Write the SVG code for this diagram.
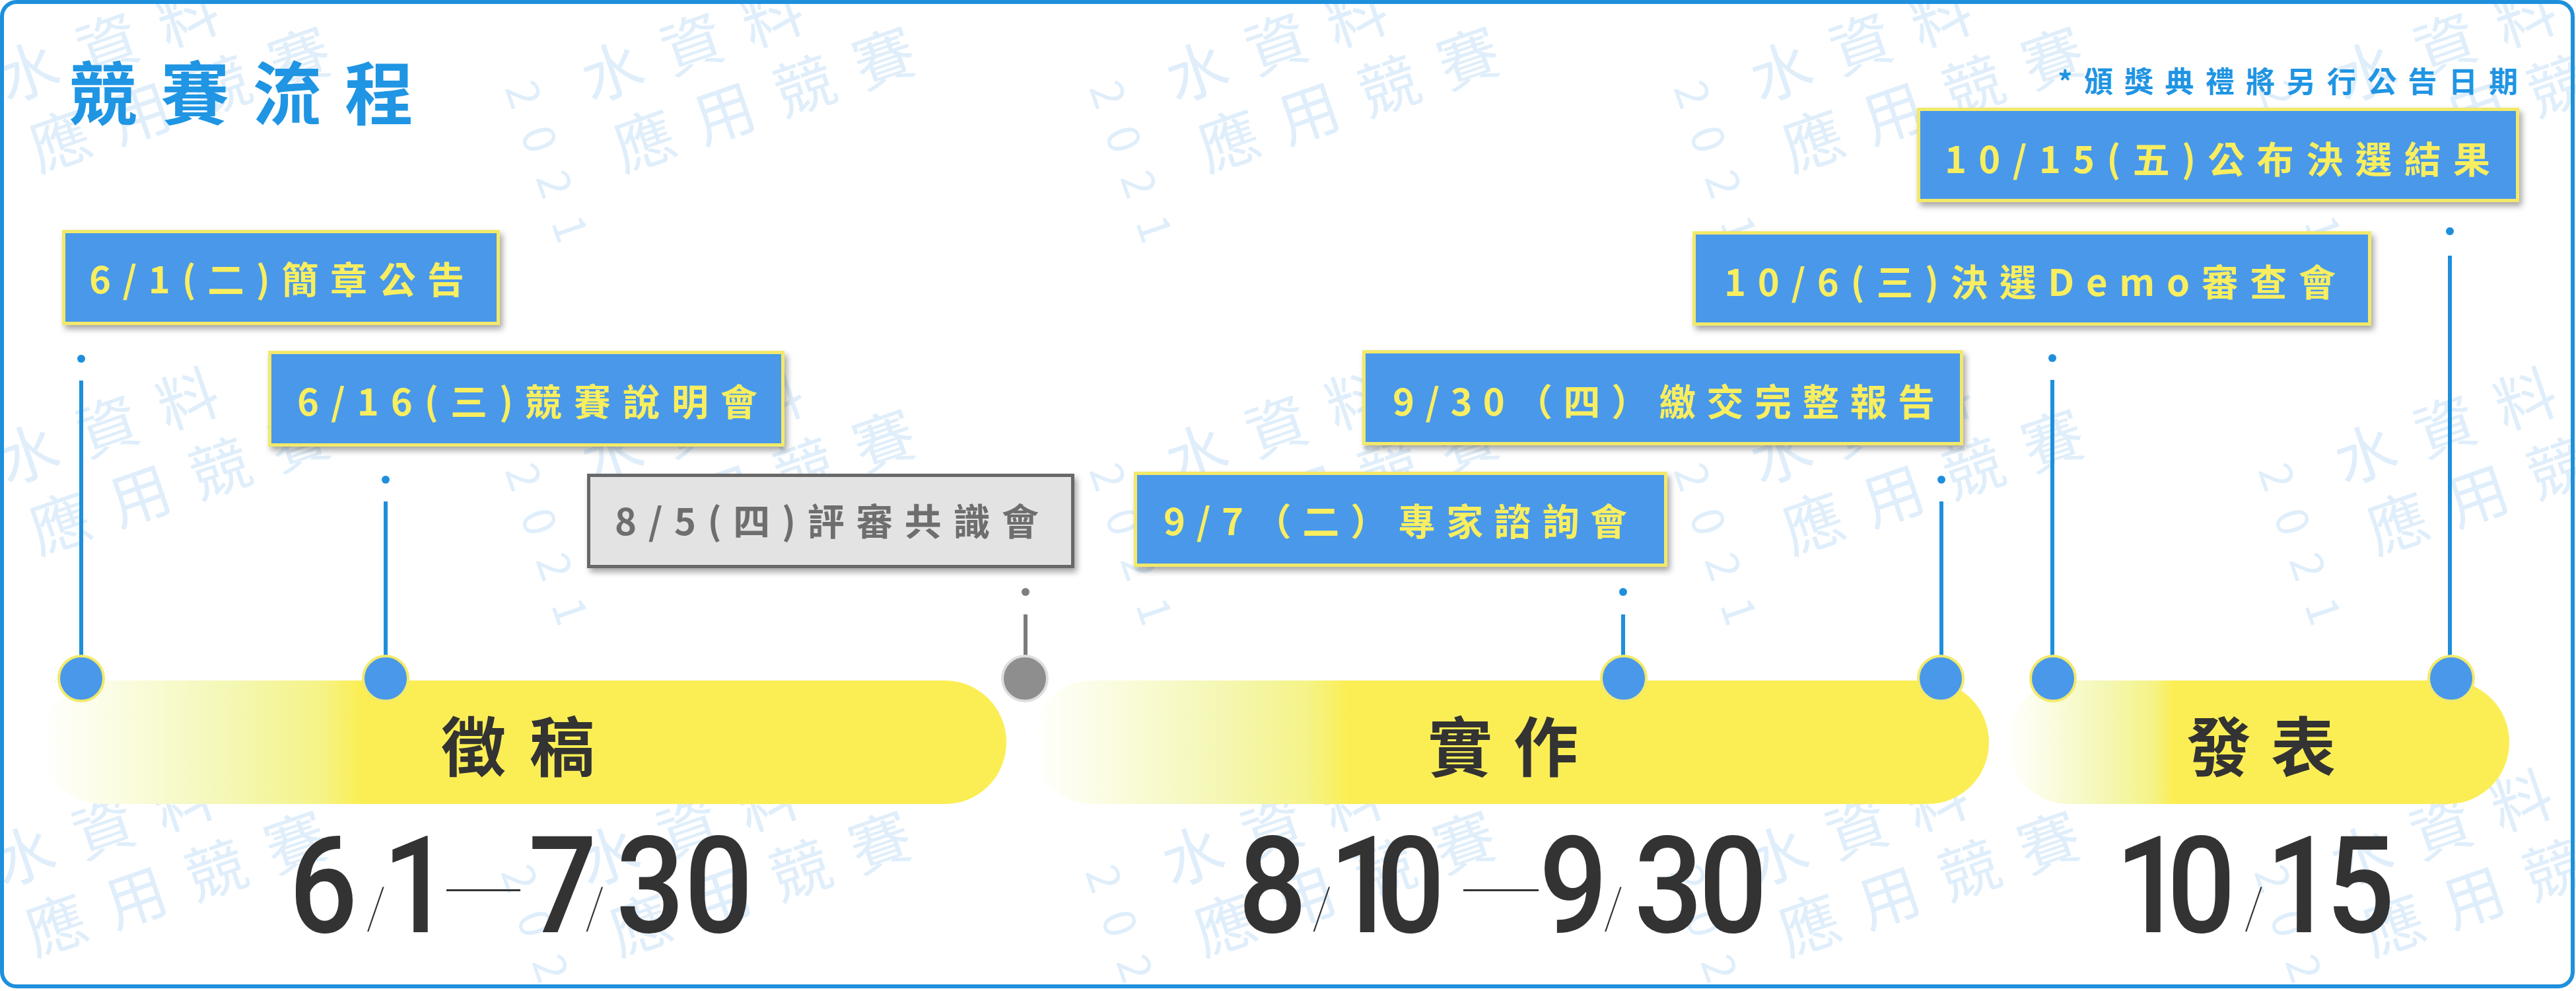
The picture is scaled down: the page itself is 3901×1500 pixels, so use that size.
<svg xmlns="http://www.w3.org/2000/svg" xmlns:xlink="http://www.w3.org/1999/xlink" width="3901" height="1500" viewBox="0 0 3901 1500">
<style>
.wm{font-family:"Noto Sans CJK TC","Noto Sans CJK SC",sans-serif;font-size:92px;fill:#dfeefa;letter-spacing:36px}
.wmn{font-family:"Noto Sans CJK TC",sans-serif;font-size:68px;fill:#dfeefa;letter-spacing:34px}
.title{font-family:"Noto Sans CJK TC","Noto Sans CJK SC",sans-serif;font-weight:700;fill:#1f95e3}
.box{fill:#4a98ea;stroke:#f2e96b;stroke-width:5}
.gbox{fill:#e3e3e3;stroke:#686868;stroke-width:5}
.lbl{font-family:"Noto Sans CJK TC","Noto Sans CJK SC",sans-serif;font-weight:700;font-size:56px;fill:#f8ee5f}
.glbl{fill:#6e6e6e}
.conn{stroke:#1e8fdc;stroke-width:6;fill:none}
.gconn{stroke:#7a7a7a}
.dot{fill:#1e8fdc}
.gdot{fill:#7f7f7f}
.pin{fill:#4a98ea;stroke:#f3ea6a;stroke-width:4}
.gpin{fill:#8e8e8e;stroke:#dedede;stroke-width:4}
.bar{fill:url(#barg)}
.barlbl{font-family:"Noto Sans CJK TC","Noto Sans CJK SC",sans-serif;font-weight:700;font-size:98px;fill:#333333}
.date{font-family:Roboto,"Liberation Sans",sans-serif;font-weight:500;font-size:205px;fill:#333333;text-anchor:middle}
.sl{font-weight:100;font-size:88px}
.dash{font-family:"Liberation Sans",sans-serif;font-size:44px;fill:#333333}
</style>
<defs>
<linearGradient id="barg" x1="0" y1="0" x2="1" y2="0">
<stop offset="0" stop-color="#ffffff"/>
<stop offset="0.06" stop-color="#fcfde9"/>
<stop offset="0.2" stop-color="#f4f7b2"/>
<stop offset="0.29" stop-color="#f5f387"/>
<stop offset="0.33" stop-color="#fbee55"/>
<stop offset="1" stop-color="#fbee55"/>
</linearGradient>
<filter id="sh" x="-10%" y="-25%" width="125%" height="160%">
<feDropShadow dx="4" dy="6" stdDeviation="5" flood-color="#000000" flood-opacity="0.35"/>
</filter>
<g id="wm">
<text class="wm" x="92" y="45">水資料</text>
<text class="wm" x="104" y="160">應用競賽</text>
<text class="wmn" transform="rotate(90)" x="-19" y="24">2021</text>
</g>
</defs>
<rect x="0" y="0" width="3901" height="1500" fill="#ffffff"/>
<g id="watermark">
<use xlink:href="#wm" transform="translate(-92,143) rotate(-19)"/>
<use xlink:href="#wm" transform="translate(793,143) rotate(-19)"/>
<use xlink:href="#wm" transform="translate(1678,143) rotate(-19)"/>
<use xlink:href="#wm" transform="translate(2563,143) rotate(-19)"/>
<use xlink:href="#wm" transform="translate(3448,143) rotate(-19)"/>
<use xlink:href="#wm" transform="translate(-92,722) rotate(-19)"/>
<use xlink:href="#wm" transform="translate(793,722) rotate(-19)"/>
<use xlink:href="#wm" transform="translate(1678,722) rotate(-19)"/>
<use xlink:href="#wm" transform="translate(2563,722) rotate(-19)"/>
<use xlink:href="#wm" transform="translate(3448,722) rotate(-19)"/>
<use xlink:href="#wm" transform="translate(-98,1330) rotate(-19)"/>
<use xlink:href="#wm" transform="translate(787,1330) rotate(-19)"/>
<use xlink:href="#wm" transform="translate(1672,1330) rotate(-19)"/>
<use xlink:href="#wm" transform="translate(2557,1330) rotate(-19)"/>
<use xlink:href="#wm" transform="translate(3442,1330) rotate(-19)"/>
</g>
<rect id="frame" x="3" y="3" width="3893" height="1490" rx="22" fill="none" stroke="#1e90dc" stroke-width="6"/>
<g id="title"><text class="title" x="104" y="181" font-size="104" textLength="522" lengthAdjust="spacing">競賽流程</text></g>
<g id="note"><text class="title" x="3116" y="140" font-size="44" textLength="697" lengthAdjust="spacing">*頒獎典禮將另行公告日期</text></g>

<g id="phase-submission">
<rect class="bar" x="62" y="1030" width="1462" height="187" rx="93" ry="93"/>
<text class="barlbl" x="668" y="1167" textLength="232" lengthAdjust="spacing">徵稿</text>
<text class="date" transform="scale(0.89 1)" y="1411"><tspan x="550">6</tspan><tspan class="sl" x="639.9" y="1405">/</tspan><tspan x="709" y="1411">1</tspan><tspan x="957.3" y="1411">7</tspan><tspan class="sl" x="1012.4" y="1405">/</tspan><tspan x="1106.2" y="1411">3</tspan><tspan x="1223" y="1411">0</tspan></text>
<text class="dash" x="676" y="1359" textLength="112" lengthAdjust="spacingAndGlyphs">—</text>
</g>
<g id="phase-build">
<rect class="bar" x="1562" y="1030" width="1450" height="187" rx="93" ry="93"/>
<text class="barlbl" x="2162" y="1167" textLength="228" lengthAdjust="spacing">實作</text>
<text class="date" transform="scale(0.89 1)" y="1411"><tspan x="2165.2">8</tspan><tspan class="sl" x="2249.4" y="1405">/</tspan><tspan x="2319.7" y="1411">1</tspan><tspan x="2400" y="1411">0</tspan><tspan x="2677" y="1411">9</tspan><tspan class="sl" x="2745.5" y="1405">/</tspan><tspan x="2838.8" y="1411">3</tspan><tspan x="2948.9" y="1411">0</tspan></text>
<text class="dash" x="2216" y="1359" textLength="114" lengthAdjust="spacingAndGlyphs">—</text>
</g>
<g id="phase-present">
<rect class="bar" x="3040" y="1030" width="760" height="187" rx="93" ry="93"/>
<text class="barlbl" x="3311" y="1167" textLength="226" lengthAdjust="spacing">發表</text>
<text class="date" transform="scale(0.89 1)" y="1411"><tspan x="3657.3">1</tspan><tspan x="3745.5">0</tspan><tspan class="sl" x="3835.4" y="1405">/</tspan><tspan x="3913.5" y="1411">1</tspan><tspan x="4016.3" y="1411">5</tspan></text>
</g>

<g id="connectors">
<circle class="dot" cx="123" cy="543" r="6"/><line class="conn" x1="123" y1="576" x2="123" y2="995"/>
<circle class="dot" cx="584" cy="726" r="6"/><line class="conn" x1="584" y1="759" x2="584" y2="995"/>
<circle class="gdot" cx="1553" cy="896" r="6"/><line class="conn gconn" x1="1553" y1="930" x2="1553" y2="995"/>
<circle class="dot" cx="2458" cy="896" r="6"/><line class="conn" x1="2458" y1="930" x2="2458" y2="995"/>
<circle class="dot" cx="2940" cy="726" r="6"/><line class="conn" x1="2940" y1="759" x2="2940" y2="995"/>
<circle class="dot" cx="3108" cy="542" r="6"/><line class="conn" x1="3108" y1="575" x2="3108" y2="995"/>
<circle class="dot" cx="3710" cy="350" r="6"/><line class="conn" x1="3710" y1="387" x2="3710" y2="995"/>
</g>

<g id="ev-0601">
<rect class="box" filter="url(#sh)" x="96.5" y="350.5" width="658" height="139"/>
<text class="lbl" x="135" y="444" textLength="568" lengthAdjust="spacing">6/1(二)簡章公告</text>
<circle class="pin" cx="123" cy="1027" r="34"/>
</g>
<g id="ev-0616">
<rect class="box" filter="url(#sh)" x="408.5" y="533.5" width="777" height="140"/>
<text class="lbl" x="450" y="629" textLength="697" lengthAdjust="spacing">6/16(三)競賽說明會</text>
<circle class="pin" cx="584" cy="1027" r="34"/>
</g>
<g id="ev-0805">
<rect class="gbox" filter="url(#sh)" x="891.5" y="719.5" width="733" height="138"/>
<text class="lbl glbl" x="931" y="810" textLength="642" lengthAdjust="spacing">8/5(四)評審共識會</text>
<circle class="gpin" cx="1552" cy="1027" r="34"/>
</g>
<g id="ev-0907">
<rect class="box" filter="url(#sh)" x="1719.5" y="716.5" width="803" height="139"/>
<text class="lbl" x="1762" y="810" textLength="702" lengthAdjust="spacing">9/7（二）專家諮詢會</text>
<circle class="pin" cx="2459" cy="1027" r="34"/>
</g>
<g id="ev-0930">
<rect class="box" filter="url(#sh)" x="2065.5" y="532.5" width="905" height="139"/>
<text class="lbl" x="2109" y="629" textLength="821" lengthAdjust="spacing">9/30（四）繳交完整報告</text>
<circle class="pin" cx="2939" cy="1027" r="34"/>
</g>
<g id="ev-1006">
<rect class="box" filter="url(#sh)" x="2565.5" y="352.5" width="1023" height="138"/>
<text class="lbl" x="2611" y="448" textLength="926" lengthAdjust="spacing">10/6(三)決選Demo審查會</text>
<circle class="pin" cx="3109" cy="1027" r="34"/>
</g>
<g id="ev-1015">
<rect class="box" filter="url(#sh)" x="2905.5" y="165.5" width="907" height="138"/>
<text class="lbl" x="2945" y="262" textLength="826" lengthAdjust="spacing">10/15(五)公布決選結果</text>
<circle class="pin" cx="3712" cy="1027" r="34"/>
</g>
</svg>
